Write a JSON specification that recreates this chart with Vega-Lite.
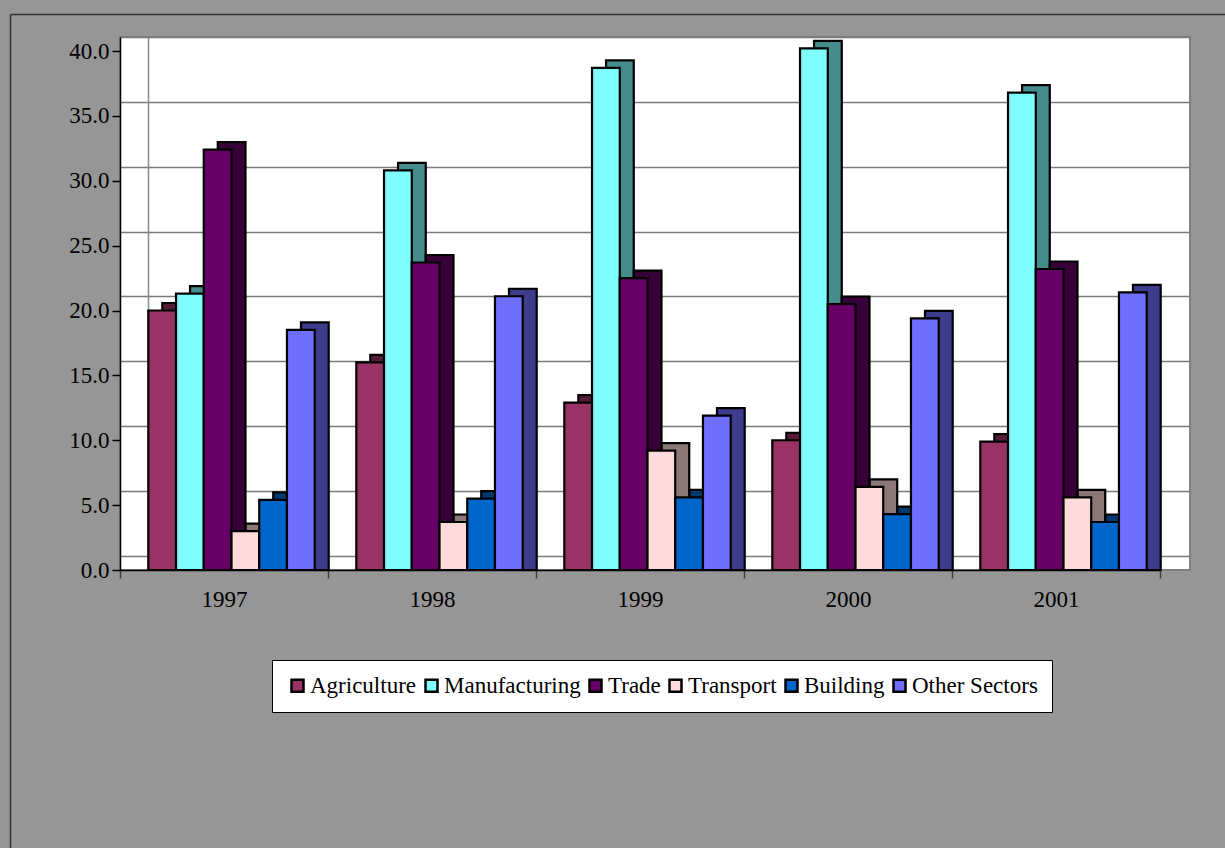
{
  "$schema": "https://vega.github.io/schema/vega-lite/v6.json",
  "width": 1070,
  "height": 533,
  "autosize": {"type": "none"},
  "padding": {"left": 120, "top": 37, "right": 35, "bottom": 278},
  "background": "#969696",
  "config": {
    "font": "Liberation Serif",
    "view": {"fill": "white", "stroke": "#808080", "strokeWidth": 2},
    "legend": {"labelFont": "Liberation Serif"},
    "axis": {"labelFont": "Liberation Serif"}
  },
  "data": {
    "values": [
      {"year": "1997", "sector": "Agriculture", "value": 20.0},
      {"year": "1997", "sector": "Manufacturing", "value": 21.3},
      {"year": "1997", "sector": "Trade", "value": 32.4},
      {"year": "1997", "sector": "Transport", "value": 3.0},
      {"year": "1997", "sector": "Building", "value": 5.4},
      {"year": "1997", "sector": "Other Sectors", "value": 18.5},
      {"year": "1998", "sector": "Agriculture", "value": 16.0},
      {"year": "1998", "sector": "Manufacturing", "value": 30.8},
      {"year": "1998", "sector": "Trade", "value": 23.7},
      {"year": "1998", "sector": "Transport", "value": 3.7},
      {"year": "1998", "sector": "Building", "value": 5.5},
      {"year": "1998", "sector": "Other Sectors", "value": 21.1},
      {"year": "1999", "sector": "Agriculture", "value": 12.9},
      {"year": "1999", "sector": "Manufacturing", "value": 38.7},
      {"year": "1999", "sector": "Trade", "value": 22.5},
      {"year": "1999", "sector": "Transport", "value": 9.2},
      {"year": "1999", "sector": "Building", "value": 5.6},
      {"year": "1999", "sector": "Other Sectors", "value": 11.9},
      {"year": "2000", "sector": "Agriculture", "value": 10.0},
      {"year": "2000", "sector": "Manufacturing", "value": 40.2},
      {"year": "2000", "sector": "Trade", "value": 20.5},
      {"year": "2000", "sector": "Transport", "value": 6.4},
      {"year": "2000", "sector": "Building", "value": 4.3},
      {"year": "2000", "sector": "Other Sectors", "value": 19.4},
      {"year": "2001", "sector": "Agriculture", "value": 9.9},
      {"year": "2001", "sector": "Manufacturing", "value": 36.8},
      {"year": "2001", "sector": "Trade", "value": 23.2},
      {"year": "2001", "sector": "Transport", "value": 5.6},
      {"year": "2001", "sector": "Building", "value": 3.7},
      {"year": "2001", "sector": "Other Sectors", "value": 21.4}
    ]
  },
  "layer": [
    {
      "mark": {"type": "tick", "opacity": 0},
      "encoding": {
        "y": {
          "field": "value", "type": "quantitative",
          "scale": {"domain": [-1.079, 40.0], "nice": false, "zero": false},
          "axis": {
            "orient": "right", "offset": -1042, "title": null,
            "values": [0, 5, 10, 15, 20, 25, 30, 35, 40],
            "grid": true, "gridColor": "#7a7a7a", "gridWidth": 1.5,
            "labels": false, "ticks": false,
            "domain": true, "domainColor": "#8a8a8a", "domainWidth": 1.5
          }
        }
      }
    },
    {
      "layer": [
        {
          "mark": {"type": "bar", "yOffset": -7.5, "y2Offset": -7.5},
          "encoding": {
            "color": {
              "field": "sector", "type": "nominal",
              "scale": {
                "domain": ["Agriculture", "Manufacturing", "Trade", "Transport", "Building", "Other Sectors"],
                "range": ["#993366", "#80FFFF", "#660066", "#FFDADA", "#0066CC", "#6F6FFF"]
              }
            }
          }
        },
        {
          "mark": {"type": "bar", "yOffset": -7.5, "y2Offset": -7.5, "color": "black", "fillOpacity": 0.45, "stroke": "black", "strokeWidth": 2.2, "strokeOpacity": 1}
        }
      ],
      "encoding": {
        "x": {"field": "year", "type": "ordinal", "scale": {"range": [0, 1040], "paddingInner": 0, "paddingOuter": 0}, "axis": null},
        "xOffset": {
          "field": "sector", "type": "nominal",
          "sort": ["Agriculture", "Manufacturing", "Trade", "Transport", "Building", "Other Sectors"],
          "scale": {"range": [21.5, 229.5], "paddingInner": 0, "paddingOuter": 0.75}
        },
        "y": {"field": "value", "type": "quantitative", "stack": null, "scale": {"domain": [0, 41.08], "nice": false}, "axis": null}
      }
    },
    {
      "mark": {"type": "bar", "stroke": "black", "strokeWidth": 2.2},
      "encoding": {
        "x": {
          "field": "year", "type": "ordinal",
          "scale": {"range": [0, 1040], "paddingInner": 0, "paddingOuter": 0},
          "axis": {
            "title": null, "labelAngle": 0, "labelFont": "Liberation Serif", "labelFontSize": 23, "labelColor": "black",
            "tickBand": "extent", "tickSize": 8, "tickColor": "#404040", "tickWidth": 1.5,
            "domainColor": "black", "domainWidth": 1.5, "labelPadding": 10, "grid": false
          }
        },
        "xOffset": {
          "field": "sector", "type": "nominal",
          "sort": ["Agriculture", "Manufacturing", "Trade", "Transport", "Building", "Other Sectors"],
          "scale": {"range": [7.5, 215.5], "paddingInner": 0, "paddingOuter": 0.75}
        },
        "y": {
          "field": "value", "type": "quantitative", "stack": null,
          "scale": {"domain": [0, 41.08], "nice": false},
          "axis": {
            "title": null, "values": [0, 5, 10, 15, 20, 25, 30, 35, 40], "format": ".1f",
            "labelFont": "Liberation Serif", "labelFontSize": 23, "labelColor": "black", "tickSize": 8, "tickColor": "black", "tickWidth": 1.5,
            "domainColor": "black", "domainWidth": 1.5, "labelPadding": 3, "grid": false
          }
        },
        "color": {
          "field": "sector", "type": "nominal",
          "scale": {
            "domain": ["Agriculture", "Manufacturing", "Trade", "Transport", "Building", "Other Sectors"],
            "range": ["#993366", "#80FFFF", "#660066", "#FFDADA", "#0066CC", "#6F6FFF"]
          },
          "legend": {
            "orient": "none", "legendX": 152, "legendY": 623, "direction": "horizontal", "columns": 6,
            "title": null, "fillColor": "white", "strokeColor": "black", "padding": 14,
            "labelFont": "Liberation Serif", "labelFontSize": 23, "labelColor": "black", "labelOffset": 1, "columnPadding": 3,
            "symbolType": "square", "symbolSize": 144, "symbolStrokeColor": "black", "symbolStrokeWidth": 2.5,
            "symbolOpacity": 1,
            "encode": {
              "labels": {"update": {"font": {"value": "Liberation Serif"}, "fontSize": {"value": 23}}},
              "symbols": {"update": {"stroke": {"value": "black"}, "strokeWidth": {"value": 2.5}}}
            }
          }
        }
      }
    },
    {
      "mark": {"type": "point", "opacity": 0},
      "encoding": {
        "x": {
          "field": "year", "type": "nominal",
          "scale": {"type": "point", "range": [-110, 1105]},
          "axis": {"orient": "top", "offset": 23, "title": null, "domain": true, "domainColor": "#333333", "domainWidth": 1.5, "ticks": false, "labels": false, "grid": false}
        },
        "y": {
          "field": "value", "type": "quantitative",
          "scale": {"range": [811, -23]},
          "axis": {"orient": "left", "offset": 110, "title": null, "domain": true, "domainColor": "#333333", "domainWidth": 1.5, "ticks": false, "labels": false, "grid": false}
        }
      }
    }
  ],
  "resolve": {"scale": {"x": "independent", "y": "independent", "xOffset": "independent"}}
}
